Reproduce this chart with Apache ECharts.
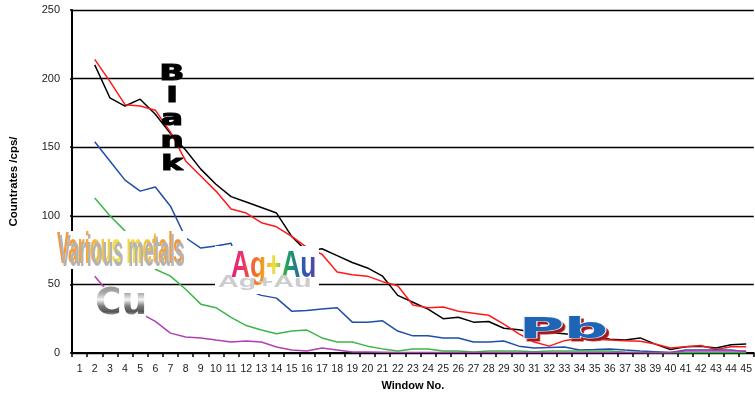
<!DOCTYPE html>
<html>
<head>
<meta charset="utf-8">
<script src="https://cdn.jsdelivr.net/npm/echarts@6/dist/echarts.min.js"></script>
<style>
  html, body { margin: 0; padding: 0; background: #fff; }
  #chart { width: 755px; height: 396px; }
</style>
</head>
<body>
<div id="chart"></div>
<script>
// Window numbers along the x axis
const windows = ['1','2','3','4','5','6','7','8','9','10','11','12','13','14','15',
  '16','17','18','19','20','21','22','23','24','25','26','27','28','29','30',
  '31','32','33','34','35','36','37','38','39','40','41','42','43','44','45'];

// Count rates (cps) per window
const blank = [null, 210, 186, 180, 185, 174, 160, 148, 134, 123, 114, 110, 106, 102, 85,
  74, 76, 71, 66, 62, 56, 42, 37, 32, 25, 26, 22.5, 23, 18, 17,
  15, 15, 14, 13, 12, 10, 9.5, 11, 6.5, 2.5, 4.5, 5, 3.6, 6, 6.5];

const pbSample = [null, 214, 198, 181, 180, 177, 161, 140, 129, 118, 105, 102, 95, 92, 85,
  77, 72, 59, 57, 56, 52, 49, 35, 33, 33.5, 30.5, 29, 27.5, 21, 14,
  8, 5, 9, 11, 10, 9.5, 9, 8.5, 6.5, 3.6, 4.5, 5.5, 2.5, 4.5, 4.5];

const agAuSample = [null, 154, 140, 126, 118, 121, 107, 84, 76.5, 78, 80, 46, 42, 40, 30.5,
  31, 32, 33, 22.5, 22.5, 23.5, 16, 12.5, 12.5, 11, 11, 8, 8, 8.7, 5,
  3.6, 4, 4.4, 2.2, 2.5, 3, 2.2, 1.5, 1, 0.3, 2.2, 2.2, 2.2, 2.2, 1];

const metalsSample = [null, 113, 100, 89, 74, 61, 56, 46.5, 35.6, 33, 26, 20, 16.7, 14, 16,
  16.7, 11, 8, 8, 5, 3, 1.5, 3, 3, 1.5, 1.5, 0.7, 1.5, 1.5, 1.5,
  1, 1.5, 1.5, 1.5, 1.5, 1.5, 0.5, 0.3, 0.2, 0.2, 0.2, 0.2, 0.2, 0.2, 0.2];

const cuSample = [null, 56, 43, 35, 29, 23, 14.5, 11.6, 11, 9.4, 8, 8.7, 8, 4.4, 2.2,
  1.5, 3.6, 2.2, 0.7, 0.7, 0.5, 0.3, 0.3, 0.3, 0.3, 0.3, 0.3, 0.3, 0.3, 0.3,
  0.3, 0.3, 0.3, 0.3, 0.3, 0.3, 0.3, 0.3, 0.3, 0.3, 1.5, 1.5, 1.5, 1.5, 1.5];

const yTicks = { min: 0, max: 250, interval: 50 };

const seriesDefs = [
  { name: 'Blank', data: blank, color: '#000000' },
  { name: 'Pb', data: pbSample, color: '#ff1a1a' },
  { name: 'Ag+Au', data: agAuSample, color: '#1f4ea6' },
  { name: 'Various metals', data: metalsSample, color: '#3db54a' },
  { name: 'Cu', data: cuSample, color: '#b03fb5' }
];

const chart = echarts.init(document.getElementById('chart'), null, { renderer: 'canvas' });
const G = echarts.graphic;
const labelFont = '"Liberation Sans", Arial, sans-serif';

// Word-art labels live on their own transparent layer so that a gradient
// can be painted into the glyphs (source-atop) and the drop shadow and the
// white backing box can be slid underneath (destination-over).
function wordArt(cfg) {
  const L = 1;
  const els = [];
  els.push({
    type: 'text', zlevel: L, z: cfg.z, x: cfg.x, y: cfg.y, scaleX: cfg.scaleX || 1, scaleY: cfg.scaleY || 1,
    style: Object.assign({ text: cfg.text, fill: '#000', align: 'left', verticalAlign: 'top', font: cfg.font }, cfg.textStyle || {})
  });
  els.push({
    type: 'rect', zlevel: L, z: cfg.z + 1, shape: cfg.paintBox,
    style: { fill: cfg.gradient, blend: 'source-atop' }
  });
  if (cfg.shadow) {
    els.push({
      type: 'text', zlevel: L, z: cfg.z + 2, x: cfg.shadow.x, y: cfg.shadow.y,
      scaleX: cfg.shadow.scaleX, scaleY: cfg.shadow.scaleY,
      style: { text: cfg.text, fill: cfg.shadow.color, align: 'left', verticalAlign: 'top', font: cfg.font, blend: 'destination-over' }
    });
  }
  els.push({
    type: 'rect', zlevel: L, z: cfg.z + 3, shape: cfg.whiteBox,
    style: { fill: '#ffffff', blend: 'destination-over' }
  });
  return els;
}

const variousFont = 'bold 44px "Liberation Sans", sans-serif';
const agFont = 'bold 36px "Liberation Sans", sans-serif';
const cuFont = 'bold 40px "DejaVu Sans", sans-serif';

const wordArtEls = [].concat(
  wordArt({
    z: 10, text: 'Various metals', font: variousFont, x: 57, y: 229, scaleX: 0.405,
    paintBox: { x: 50, y: 226, width: 140, height: 44 },
    gradient: new G.LinearGradient(0, 0, 1, 0, [
      { offset: 0, color: '#f58f3a' },
      { offset: 0.25, color: '#f7a63a' },
      { offset: 0.48, color: '#f6e23c' },
      { offset: 0.62, color: '#f5d838' },
      { offset: 0.8, color: '#f4a33b' },
      { offset: 1, color: '#f58c3b' }
    ]),
    shadow: { x: 59, y: 232, scaleX: 0.405, scaleY: 1, color: '#b4b4b4' },
    whiteBox: { x: 56, y: 231, width: 131, height: 38 }
  }),
  wordArt({
    z: 20, text: 'Cu', font: cuFont, x: 95, y: 285, scaleX: 0.9, scaleY: 0.95,
    paintBox: { x: 90, y: 283, width: 62, height: 40 },
    gradient: new G.LinearGradient(0, 0, 0, 1, [
      { offset: 0, color: '#8e8e8e' },
      { offset: 0.25, color: '#a8a8a8' },
      { offset: 0.42, color: '#f4f4f4' },
      { offset: 0.58, color: '#7a7a7a' },
      { offset: 0.72, color: '#555555' },
      { offset: 0.86, color: '#d6d6d6' },
      { offset: 1, color: '#8a8a8a' }
    ]),
    whiteBox: { x: 95, y: 287, width: 51, height: 32 }
  }),
  wordArt({
    z: 30, text: 'Ag+Au', font: agFont, x: 231, y: 249, scaleX: 0.73,
    paintBox: { x: 226, y: 246, width: 96, height: 42 },
    gradient: new G.LinearGradient(0, 0, 1, 0, [
      { offset: 0, color: '#e0138f' },
      { offset: 0.18, color: '#ee3566' },
      { offset: 0.33, color: '#f47b20' },
      { offset: 0.5, color: '#ebe23a' },
      { offset: 0.63, color: '#1ea65a' },
      { offset: 0.8, color: '#2a5cb0' },
      { offset: 1, color: '#6b3a9e' }
    ]),
    shadow: { x: 218, y: 274, scaleX: 0.8, scaleY: 0.45, color: '#cdcdcd' },
    whiteBox: { x: 215, y: 246, width: 104, height: 48 }
  })
);

const option = {
  animation: false,
  backgroundColor: '#ffffff',
  grid: { left: 70, right: 0, top: 10, bottom: 42 },
  xAxis: {
    type: 'category',
    data: windows,
    boundaryGap: true,
    name: 'Window No.',
    nameLocation: 'middle',
    nameGap: 27,
    nameTextStyle: { fontFamily: labelFont, fontWeight: 'bold', fontSize: 11, color: '#000' },
    axisLine: { lineStyle: { color: '#000', width: 2 } },
    axisTick: { show: true, length: 4, lineStyle: { color: '#000', width: 1.5 } },
    axisLabel: { interval: 0, margin: 11, fontFamily: labelFont, fontSize: 10.5, color: '#222' },
    splitLine: { show: false }
  },
  yAxis: {
    type: 'value',
    min: yTicks.min,
    max: yTicks.max,
    interval: yTicks.interval,
    name: 'Countrates /cps/',
    nameLocation: 'middle',
    nameGap: 52,
    nameTextStyle: { fontFamily: labelFont, fontWeight: 'bold', fontSize: 11.5, color: '#000' },
    axisLine: { show: true, lineStyle: { color: '#000', width: 2 } },
    axisTick: { show: true, length: 2, lineStyle: { color: '#000', width: 1.5 } },
    axisLabel: { margin: 12, fontFamily: labelFont, fontSize: 11, color: '#222' },
    splitLine: { show: true, lineStyle: { color: '#000', width: 1.3 } }
  },
  series: seriesDefs.map(s => ({
    name: s.name,
    type: 'line',
    data: s.data,
    showSymbol: false,
    symbol: 'none',
    smooth: false,
    connectNulls: false,
    lineStyle: { color: s.color, width: 1.5 },
    itemStyle: { color: s.color },
    z: 3
  })),
  graphic: { elements: [
    // "Blank" written vertically
    {
      type: 'text', x: 172, y: 63, scaleX: 1.55, z: 100,
      style: {
        text: 'B\nl\na\nn\nk', fill: '#000', stroke: '#000', lineWidth: 1.1,
        align: 'center', verticalAlign: 'top',
        font: 'bold 21px "DejaVu Sans", sans-serif', lineHeight: 22.5
      }
    },
    // "Pb" with dark red drop shadow
    {
      type: 'text', x: 522, y: 319, scaleX: 2.12, z: 100,
      style: { text: 'Pb', fill: '#9b1b22', stroke: '#d43a3a', lineWidth: 1, align: 'left', verticalAlign: 'top',
        font: 'bold 29px "DejaVu Sans", sans-serif' }
    },
    {
      type: 'text', x: 519, y: 316, scaleX: 2.12, z: 101,
      style: { text: 'Pb', fill: '#1f65b5', stroke: '#e8eef8', lineWidth: 1.2, align: 'left', verticalAlign: 'top',
        font: 'bold 29px "DejaVu Sans", sans-serif' }
    }
  ].concat(wordArtEls) }
};

chart.setOption(option);
</script>
</body>
</html>
